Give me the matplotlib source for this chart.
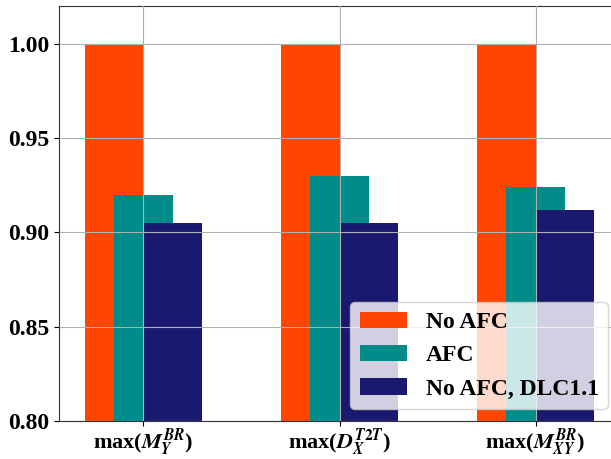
import matplotlib
matplotlib.use("Agg")
import matplotlib.pyplot as plt
import numpy as np

plt.rcParams["font.family"] = ["Liberation Serif", "DejaVu Serif"]
plt.rcParams["font.weight"] = "bold"
plt.rcParams["mathtext.fontset"] = "stix"

categories = [r"max($M_Y^{BR}$)", r"max($D_X^{T2T}$)", r"max($M_{XY}^{BR}$)"]
no_afc = [1.0, 1.0, 1.0]
afc = [0.92, 0.93, 0.924]
no_afc_dlc11 = [0.905, 0.905, 0.912]

x = np.arange(len(categories))
w = 0.3

fig = plt.figure(figsize=(6.11, 4.59), dpi=100)
ax = fig.add_axes([59 / 611, 38 / 459, 561 / 611, 415 / 459])

ax.bar(x - w / 2, no_afc, w, color="#FF4500", label="No AFC")
ax.bar(x, afc, w, color="#008B8B", label="AFC")
ax.bar(x + w / 2, no_afc_dlc11, w, color="#191970", label="No AFC, DLC1.1")

ax.set_xticks(x)
ax.set_xticklabels(categories, fontsize=16, fontweight="bold")
ax.tick_params(axis="x", pad=0.5)
ax.set_ylim(0.8, 1.02)
ax.set_yticks([0.80, 0.85, 0.90, 0.95, 1.00])
ax.set_yticklabels(["0.80", "0.85", "0.90", "0.95", "1.00"], fontsize=17, fontweight="bold")
ax.set_xlim(-0.43, 2.43)
ax.set_axisbelow(False)
ax.grid(True, color="#b0b0b0", linewidth=0.8)
for s in ax.spines.values():
    s.set_color("#333333")

ax.legend(loc="lower right", prop={"size": 17, "weight": "bold"}, framealpha=0.8)

fig.savefig("out.png", dpi=100)
